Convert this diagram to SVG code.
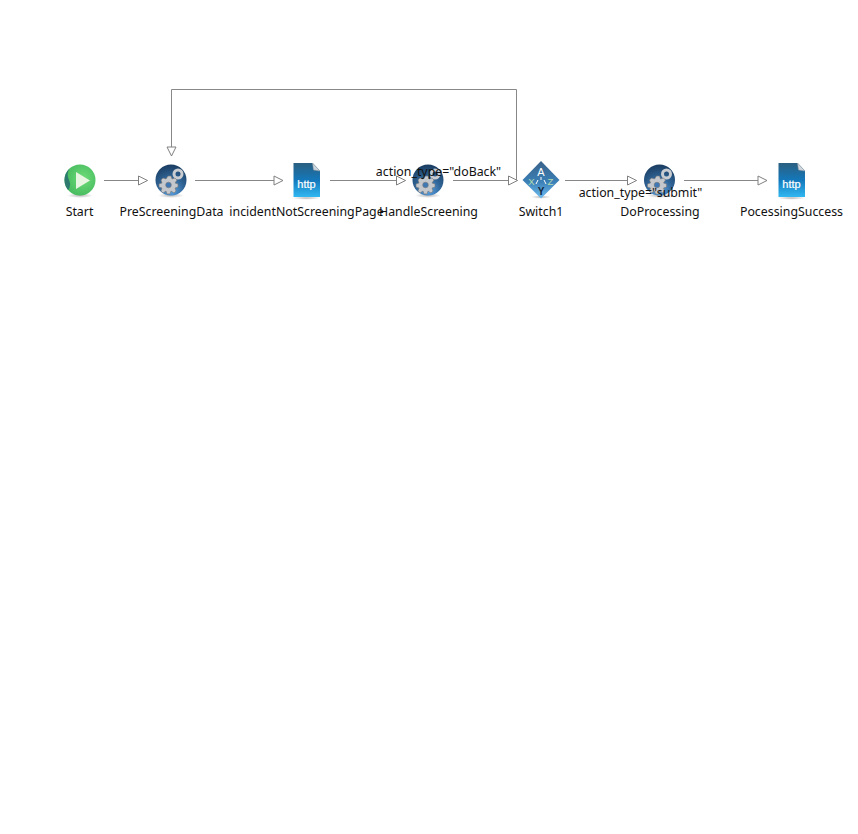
<svg xmlns="http://www.w3.org/2000/svg" width="858" height="834" viewBox="0 0 858 834">
<style>
text{font-family:"Noto Sans","Liberation Sans",sans-serif;font-size:12.35px;fill:#111;text-anchor:middle}
.edge{fill:none;stroke:#888;stroke-width:1;marker-end:url(#arrow)}
.gear{fill:#c4c8cc;stroke:#777;stroke-width:.6}
.icon{font-family:"Liberation Sans",sans-serif;font-weight:bold;fill:#fff}
</style>
<defs>
<marker id="arrow" markerUnits="userSpaceOnUse" markerWidth="12" markerHeight="12" refX="10" refY="6" orient="auto">
<path d="M1,1.5 L10,6 L1,10.5 Z" fill="#fff" stroke="#808080" stroke-width="1"/>
</marker>
<clipPath id="startclip"><circle cx="80" cy="180" r="15.5"/></clipPath>
<radialGradient id="ball" cx=".5" cy=".85" r=".85"><stop offset="0" stop-color="#5aa4e6"/><stop offset=".5" stop-color="#2f6496"/><stop offset="1" stop-color="#1a3c60"/></radialGradient>
<linearGradient id="doc" x1="0" y1="0" x2="0" y2="1"><stop offset="0" stop-color="#2b5f80"/><stop offset=".5" stop-color="#1478bb"/><stop offset="1" stop-color="#30b8f2"/></linearGradient>
<linearGradient id="dia" x1="0" y1="0" x2="0" y2="1"><stop offset="0" stop-color="#3a6288"/><stop offset=".55" stop-color="#3a7fb6"/><stop offset="1" stop-color="#6fbdf0"/></linearGradient>
<radialGradient id="grn" cx=".6" cy=".45" r=".65"><stop offset="0" stop-color="#6fdc78"/><stop offset="1" stop-color="#43b85d"/></radialGradient>
<radialGradient id="shadow"><stop offset="0" stop-color="#999" stop-opacity=".7"/><stop offset="1" stop-color="#999" stop-opacity="0"/></radialGradient>
<g id="gearball">
<ellipse cx="0" cy="15.5" rx="13" ry="2.5" fill="url(#shadow)"/>
<circle r="15.5" fill="url(#ball)"/>
<g class="gear">
<circle cx="7" cy="-6" r="4" fill="none" stroke="#c9cdd1" stroke-width="3"/>
<path d="M-3,-4 L0,-4 L1,-1 L4,-2 L6,0 L4,3 L7,4 L7,7 L4,8 L5,11 L3,13 L0,11 L-1,14 L-4,14 L-5,11 L-8,13 L-10,11 L-9,8 L-12,7 L-12,4 L-9,3 L-10,0 L-8,-2 L-5,-1 Z"/>
<circle cx="-2.5" cy="5" r="2.8" fill="#3f78b4"/>
</g>
</g>
<g id="httpdoc">
<ellipse cx="0" cy="18" rx="14" ry="1.8" fill="url(#shadow)"/>
<path d="M-13,-17 L6,-17 L13.5,-9 L13.5,17 L-13,17 Z" fill="url(#doc)"/>
<path d="M6,-17 L13.5,-9 L7,-10 Z" fill="#cfd6dc" stroke="#8b98a3" stroke-width=".5"/>
<text class="icon" x="0" y="8" style="font-size:11px;font-weight:normal;stroke:#fff;stroke-width:.2">http</text>
</g>
</defs>
<rect width="858" height="834" fill="#fff"/>
<g id="connectors">
<path class="edge" d="M104,180.5H147.5"/>
<path class="edge" d="M195,180.5H283"/>
<path class="edge" d="M330,180.5H405.5"/>
<path class="edge" d="M453,180.5H517.5"/>
<path class="edge" d="M565,180.5H636.5"/>
<path class="edge" d="M684,180.5H767"/>
<path class="edge" d="M516.5,180V89.5H171.5V156"/>
</g>
<g id="node-start">
<ellipse cx="80" cy="195.5" rx="13" ry="2.5" fill="url(#shadow)"/>
<circle cx="80" cy="180" r="15.5" fill="url(#grn)"/>
<path clip-path="url(#startclip)" d="M62,164 L73,164 Q65,172 69,180 Q72,186 67,192 L62,192 Z" fill="#2f7a70"/>
<path d="M76,172 L90,180.5 L76,189 Z" fill="#e8f5e0"/>
<text x="79.5" y="216">Start</text>
</g>
<g id="node-prescreeningdata">
<use href="#gearball" x="171" y="180"/>
<text x="171.5" y="216">PreScreeningData</text>
</g>
<g id="node-incidentnotscreeningpage">
<use href="#httpdoc" x="306.5" y="180"/>
<text x="306.5" y="216">incidentNotScreeningPage</text>
</g>
<g id="node-handlescreening">
<use href="#gearball" x="428" y="180"/>
<text x="428.5" y="216">HandleScreening</text>
</g>
<g id="node-switch1">
<ellipse cx="541" cy="197" rx="10" ry="1.8" fill="url(#shadow)"/>
<path d="M541,161 L559.5,180 L541,198.500 L522.500,180 Z" fill="url(#dia)"/>
<text class="icon" x="541" y="176" style="font-size:11px;font-weight:normal">A</text>
<text class="icon" x="531.500" y="185" style="font-size:9.500px;font-weight:normal;fill:#b5dcae">X</text>
<text class="icon" x="550.500" y="185" style="font-size:9.500px;font-weight:normal;fill:#b5dcae">Z</text>
<text class="icon" x="541" y="195" style="font-size:10px;fill:#12263c">Y</text>
<path d="M541,177V180M538,180L536,184M544,180L546,184" stroke="#fff" fill="none"/>
<text x="541" y="216">Switch1</text>
</g>
<g id="node-doprocessing">
<use href="#gearball" x="659.5" y="180"/>
<text x="660" y="216">DoProcessing</text>
</g>
<g id="node-pocessingsuccess">
<use href="#httpdoc" x="791.5" y="180"/>
<text x="791.5" y="216">PocessingSuccess</text>
</g>
<g id="connector-labels">
<text x="438.5" y="176">action_type="doBack"</text>
<text x="640.5" y="197">action_type="submit"</text>
</g>
</svg>
